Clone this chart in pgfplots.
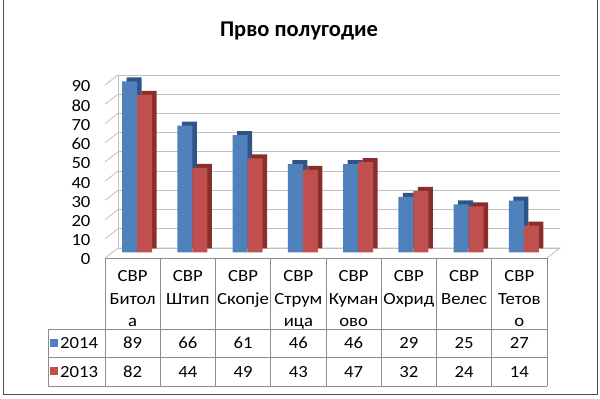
\documentclass[border=0pt]{standalone}
\usepackage{pgfplots}
\pgfplotsset{compat=1.18}
\usepackage{pgfplotstable}
\usepackage{fontspec}
\setmainfont{Carlito}
\newfontfamily\lab[FakeStretch=1.1]{Carlito}
\definecolor{bf}{HTML}{4F81BD}
\definecolor{bd}{HTML}{2F5488}
\definecolor{rf}{HTML}{C0504D}
\definecolor{rd}{HTML}{8A2E2B}
\definecolor{gridc}{HTML}{BFBFBF}
\definecolor{tabc}{HTML}{8C8C8C}
\pgfplotstableread{
x a b
0 89 82
1 66 44
2 61 49
3 46 43
4 46 47
5 29 32
6 25 24
7 27 14
}\data
\newcommand\tf{\lab\fontsize{17}{22.5}\selectfont}
\begin{document}
\begin{tikzpicture}[x=1pt,y=1pt]
\path[use as bounding box] (0,0) rectangle (600,399);
\draw[gray!60!black, line width=1pt] (3,399) -- (3,4) -- (597,4) -- (597,399);
\node[font=\bfseries\fontsize{22.5}{26}\selectfont] at (299,368) {Прво полугодие};
% back wall
\begin{axis}[at={(118pt,151pt)}, anchor=south west, scale only axis,
  width=442pt, height=173pt, xmin=-0.5, xmax=7.5, ymin=0, ymax=90,
  ytick={0,10,...,90}, yticklabels={}, xtick=\empty, ymajorgrids,
  major grid style={gridc, line width=0.8pt},
  axis line style={draw=none}, tick style={draw=none}]
\end{axis}
\draw[gridc, line width=0.8pt] (118,151) -- (118,324);
\foreach \k in {0,...,9} \draw[gridc, line width=0.8pt] (105,141+\k*19.222) -- (118,151+\k*19.222);
\draw[gridc, line width=0.8pt] (118,151) -- (560,151) -- (547,141);
% bars
\begin{axis}[at={(105pt,141pt)}, anchor=south west, scale only axis,
  width=442pt, height=173pt, xmin=-0.5, xmax=7.5, ymin=0, ymax=90, clip=false,
  axis line style={draw=none}, tick style={draw=none},
  /pgf/number format/assume math mode=true,
  ytick={0,10,...,90},
  yticklabel style={font=\tf, xshift=-11pt, yshift=-1.5pt},
  xtick={0,...,7},
  xticklabels={{СВР\\Битол\\а},{СВР\\Штип},{СВР\\Скопје},{СВР\\Струм\\ица},{СВР\\Куман\\ово},{СВР\\Охрид},{СВР\\Велес},{СВР\\Тетов\\о}},
  xticklabel style={font=\tf, align=center, anchor=north, yshift=-5pt},
  ybar=0pt, bar width=15pt]
\addplot[fill=bd, draw=none, bar shift=-7.5pt, xshift=9pt, yshift=9.5pt] table[x=x,y=a] {\data};
\addplot[fill=bf, draw=none, bar shift=-7.5pt, xshift=4.5pt, yshift=5.5pt] table[x=x,y=a] {\data};
\addplot[fill=rd, draw=none, bar shift=7.5pt, xshift=9pt, yshift=9.5pt] table[x=x,y=b] {\data};
\addplot[fill=rf, draw=none, bar shift=7.5pt, xshift=4.5pt, yshift=5.5pt] table[x=x,y=b] {\data};
\end{axis}
% data table
\draw[tabc, line width=0.9pt] (105,141) -- (547,141);
\foreach \yy in {70,42,13} \draw[tabc, line width=0.9pt] (48,\yy) -- (547,\yy);
\draw[tabc, line width=0.9pt] (48,70) -- (48,13);
\foreach \i in {0,...,8} \draw[tabc, line width=0.9pt] (105+\i*55.25,141) -- (105+\i*55.25,13);
\fill[bf] (50,52) rectangle (58,60);
\fill[rf] (50,24) rectangle (58,32);
\node[anchor=west, font=\tf, inner sep=1pt] at (59,56) {2014};
\node[anchor=west, font=\tf, inner sep=1pt] at (59,27) {2013};
\foreach \v [count=\i from 0] in {89,66,61,46,46,29,25,27}
  \node[font=\tf] at (132.6+\i*55.25,56) {\v};
\foreach \v [count=\i from 0] in {82,44,49,43,47,32,24,14}
  \node[font=\tf] at (132.6+\i*55.25,27) {\v};
\end{tikzpicture}
\end{document}
